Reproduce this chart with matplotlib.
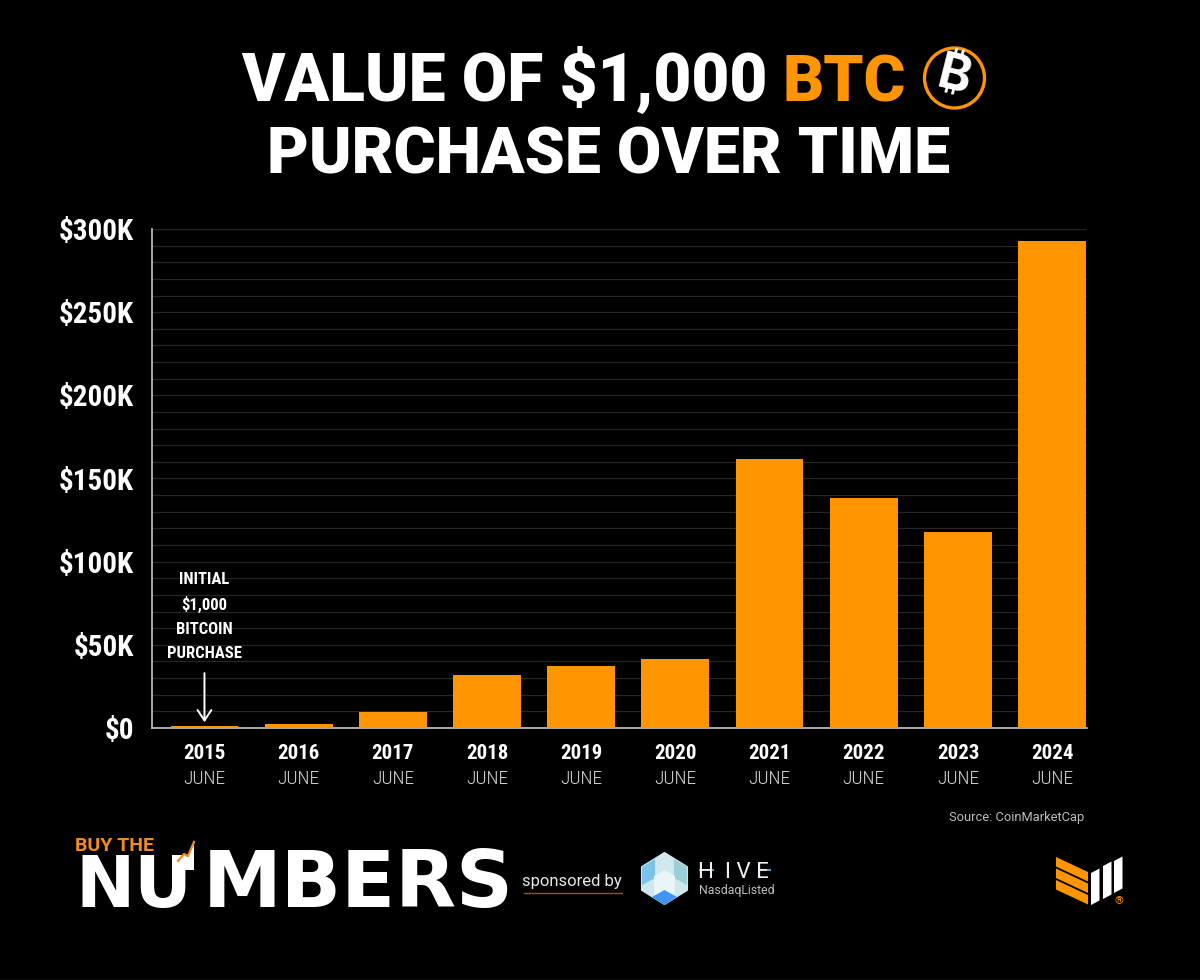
"""Value of a $1,000 BTC purchase over time, bar chart with branding."""

import matplotlib
matplotlib.use('Agg')
import matplotlib.pyplot as plt
from matplotlib import font_manager as fm
from matplotlib.patches import Circle, Polygon
from matplotlib.ticker import FuncFormatter, MultipleLocator

years = ['2015', '2016', '2017', '2018', '2019', '2020', '2021', '2022', '2023', '2024']
months = ['JUNE'] * 10
values_k = [1.0, 2.4, 9.6, 32, 37, 41.5, 161.5, 138, 118, 292.7]
callout_lines = ['INITIAL', '$1,000', 'BITCOIN', 'PURCHASE']
callout_y_k = [89, 74.5, 59.5, 45]

ORANGE = '#FF9500'
LOGO_ORANGE = '#F28C1E'
BLACK = '#000000'
installed = {f.name for f in fm.fontManager.ttflist}
NARROW = next((n for n in ['Roboto Condensed', 'Liberation Sans Narrow', 'Roboto'] if n in installed), 'DejaVu Sans')
HEAVY = 'Roboto'
BTC_FONTS = ['Inter', 'Noto Sans', 'Open Sans', 'Roboto', 'Lato', 'DejaVu Sans']

fig = plt.figure(figsize=(12, 9.8), dpi=100, facecolor=BLACK)

# Chart area, pixel box from the reference: x 152-1087, y 229-728
ax = fig.add_axes([152 / 1200, 1 - 728 / 980, 935 / 1200, 499 / 980], facecolor=BLACK)
ax.bar(range(len(years)), values_k, width=0.72, color=ORANGE, zorder=3)
ax.set_xlim(-0.557, 9.37)
ax.set_ylim(0, 300)
ax.yaxis.set_major_locator(MultipleLocator(50))
ax.yaxis.set_minor_locator(MultipleLocator(10))
ax.yaxis.set_major_formatter(FuncFormatter(lambda v, _: '$0' if v == 0 else f'${v:.0f}K'))
ax.grid(True, which='both', axis='y', color='#262626', linewidth=0.9, zorder=0)
ax.set_axisbelow(True)
ax.tick_params(axis='y', which='both', length=0, pad=13, labelcolor='white', labelsize=21)
ax.set_xticks(range(len(years)))
ax.set_xticklabels([])
ax.tick_params(axis='x', length=0)
for tick_label in ax.get_yticklabels():
    tick_label.set_fontfamily(NARROW)
    tick_label.set_fontweight('bold')
for side in ['top', 'right']:
    ax.spines[side].set_visible(False)
for side in ['left', 'bottom']:
    ax.spines[side].set_color('#C8C8C8')
    ax.spines[side].set_linewidth(1.2)

# x labels: year over month
for i, (year, month) in enumerate(zip(years, months)):
    ax.annotate(year, (i, 0), xytext=(0, -25), textcoords='offset pixels', ha='center', va='center',
                color='white', fontsize=15, fontweight='bold', fontfamily=NARROW, annotation_clip=False)
    ax.annotate(month, (i, 0), xytext=(0, -51), textcoords='offset pixels', ha='center', va='center',
                color='#D8D8D8', fontsize=14, fontweight='light', fontfamily=NARROW, annotation_clip=False)

# Callout over the first bar
ax.annotate('', xy=(0, 3.5), xytext=(0, 33), zorder=5,
            arrowprops=dict(arrowstyle='->,head_length=0.75,head_width=0.5', color='white', linewidth=1.4,
                            shrinkA=0, shrinkB=0))
for line, y_k in zip(callout_lines, callout_y_k):
    ax.text(0, y_k, line, ha='center', va='center', color='white', fontsize=12,
            fontweight='bold', fontfamily=NARROW, zorder=5)

# Overlay in reference pixels for the title and branding
ov = fig.add_axes([0, 0, 1, 1], facecolor='none')
ov.set_xlim(0, 1200)
ov.set_ylim(980, 0)
ov.axis('off')


def label(x, y, s, size, color='white', ha='center', va='center', family=HEAVY, weight='black', **kw):
    return ov.text(x, y, s, fontsize=size, color=color, ha=ha, va=va,
                   family=family, fontweight=weight, **kw)


label(241, 101, 'VALUE OF $1,000', 47.3, ha='left', va='baseline')
label(782, 101, 'BTC', 46, color=ORANGE, ha='left', va='baseline')
label(609, 173, 'PURCHASE OVER TIME', 46.3, va='baseline')

# Bitcoin badge
ov.add_patch(Circle((954.5, 78), 30, facecolor='none', edgecolor=ORANGE, linewidth=2.4))
label(954.5, 78, '\u20bf', 36, family=BTC_FONTS, weight='bold', rotation=-14)

label(1084, 817, 'Source: CoinMarketCap', 9.3, color='#BDBDBD', ha='right', family='Roboto', weight='normal')

# Buy the Numbers wordmark, NU is shorter to leave room for the small line
label(75, 846, 'BUY THE', 14, color=LOGO_ORANGE, ha='left', family='Roboto', weight='bold')
label(76, 907, 'NU', 51, ha='left', va='baseline', family='DejaVu Sans', weight='bold')
label(203, 907, 'MBERS', 57, ha='left', va='baseline', family='DejaVu Sans', weight='bold')
ov.add_patch(Polygon([[178, 862], [184, 855], [188, 857], [194, 843], [194, 870], [178, 870]],
                     facecolor='white', edgecolor='none', zorder=4))
ov.plot([178, 184, 188, 194], [861, 854, 856, 842], color=LOGO_ORANGE, linewidth=1.6, zorder=5)

label(572, 881, 'sponsored by', 12, family='Roboto', weight='normal', color='#E6E6E6')
ov.plot([524, 622], [893, 893], color='#8A5A20', linewidth=1)

# Hive logo
ov.add_patch(Polygon([[664.5, 853], [687, 867], [687, 890], [664.5, 904], [642, 890], [642, 867]],
                     facecolor='#CFE8EE', edgecolor='#CFE8EE', linewidth=1.5, joinstyle='round'))
ov.add_patch(Polygon([[642, 867], [655, 859], [655, 878], [642, 885]], facecolor='#7CC2EA', edgecolor='none'))
ov.add_patch(Polygon([[687, 867], [674, 859], [674, 878], [687, 885]], facecolor='#9BD0D8', edgecolor='none'))
ov.add_patch(Polygon([[654, 876], [664.5, 870], [675, 876], [675, 895], [664.5, 900], [654, 895]],
                     facecolor='#E8F5F9', edgecolor='none'))
ov.add_patch(Polygon([[652, 897], [664.5, 890], [677, 897], [664.5, 905]], facecolor='#3F94F5', edgecolor='none'))
label(698, 878, 'H  I V E', 16, ha='left', va='baseline', family='Roboto', weight='normal', color='#F0F0F0')
ov.plot([700, 713], [870, 870], color='#4FA3E0', linewidth=1.4)
ov.plot([759, 770], [870, 870], color='#4FA3E0', linewidth=1.4)
label(699, 890, 'NasdaqListed', 8.8, ha='left', family='Roboto', weight='normal', color='#BDBDBD')

# Corner mark: three orange slanted bars, three white bars, registered sign
for top in [857, 868.5, 880]:
    ov.add_patch(Polygon([[1056, top], [1088, top + 15], [1088, top + 24.5], [1056, top + 9.5]],
                         facecolor=ORANGE, edgecolor='none'))
for x0, y_top, y_bot in [(1091, 873, 905), (1103, 866, 899), (1114, 861, 893)]:
    ov.add_patch(Polygon([[x0, y_top], [x0 + 8.5, y_top - 4.5], [x0 + 8.5, y_bot - 4.5], [x0, y_bot]],
                         facecolor='white', edgecolor='none'))
label(1119, 901, '\u00ae', 8, color=ORANGE, family='Roboto', weight='normal')

# Thin strip along the bottom edge
ov.plot([0, 1200], [979.5, 979.5], color='#444444', linewidth=1)

fig.savefig('out.png', dpi=100, facecolor=BLACK)
